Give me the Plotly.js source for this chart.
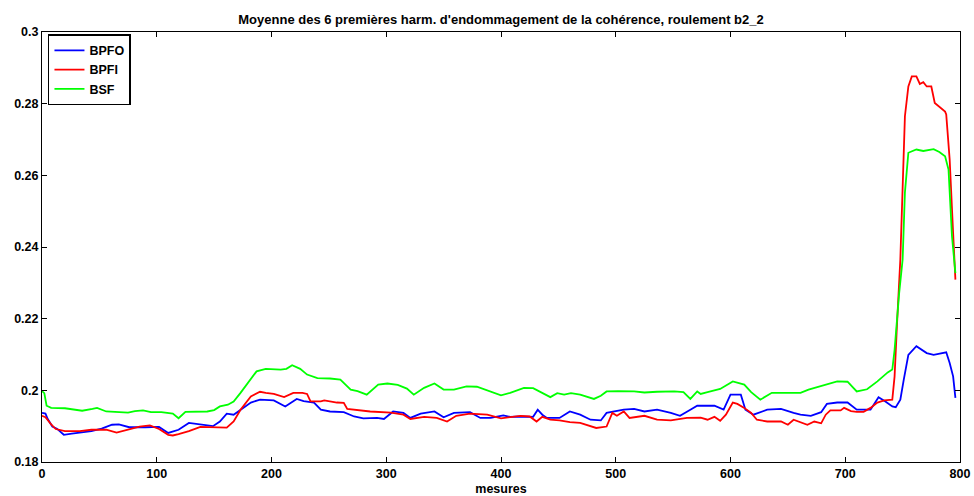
<!DOCTYPE html>
<html>
<head>
<meta charset="utf-8">
<script src="https://cdn.plot.ly/plotly-3.0.1.min.js"></script>
<style>html,body{margin:0;padding:0;background:#fff;}#chart{width:974px;height:496px;}</style>
</head>
<body>
<div id="chart"></div>
<script>
// BPFO (blue)
const bpfoX = [0,3,5,9,13,19,26,37,43,52,61,67,76,90,102,110,116,119,128,138,149,155,161,167,173,182,190,202,212,222,228,237,243,251,263,272,280,292,298,306,315,321,330,342,350,359,373,382,391,402,408,417,428,432,436,440,451,460,469,478,487,492,507,516,525,536,548,556,565,571,586,594,600,609,613,620,632,644,655,661,670,679,684,693,702,710,722,729,735,741,744,748,751,755,762,771,777,788,791,794,796];
const bpfoY = [0.1937,0.1935,0.1920,0.1899,0.1893,0.1876,0.1879,0.1883,0.1886,0.1893,0.1904,0.1905,0.1897,0.1897,0.1898,0.1881,0.1887,0.1890,0.1909,0.1905,0.1900,0.1913,0.1935,0.1932,0.1946,0.1966,0.1974,0.1972,0.1955,0.1976,0.1970,0.1966,0.1946,0.1941,0.1939,0.1927,0.1922,0.1923,0.1920,0.1941,0.1937,0.1923,0.1935,0.1941,0.1925,0.1937,0.1939,0.1923,0.1923,0.1930,0.1926,0.1927,0.1926,0.1946,0.1932,0.1923,0.1923,0.1941,0.1932,0.1918,0.1916,0.1937,0.1946,0.1948,0.1941,0.1946,0.1937,0.1929,0.1946,0.1957,0.1957,0.1946,0.1988,0.1988,0.1946,0.1932,0.1946,0.1948,0.1937,0.1932,0.1929,0.1939,0.1962,0.1966,0.1966,0.1946,0.1946,0.1981,0.1969,0.1955,0.1953,0.1974,0.2030,0.2099,0.2123,0.2104,0.2099,0.2106,0.2076,0.2039,0.1979];

// BPFI (red)
const bpfiX = [0,3,8,12,20,33,43,56,65,74,85,94,102,110,114,119,128,138,145,155,161,167,173,182,190,195,202,211,219,227,231,234,243,246,257,263,266,286,304,315,321,333,344,353,361,373,388,400,408,417,425,431,436,443,451,460,469,478,483,492,497,501,507,512,525,536,548,562,574,580,586,591,596,602,606,612,618,623,632,644,650,655,664,667,673,679,683,687,696,699,705,710,716,722,728,734,741,743,745,748,752,755,758,762,765,768,771,775,778,787,788,791,794,796];
const bpfiY = [0.1929,0.1925,0.1905,0.1892,0.1886,0.1886,0.1890,0.1890,0.1882,0.1890,0.1899,0.1902,0.1892,0.1876,0.1874,0.1878,0.1886,0.1898,0.1898,0.1898,0.1896,0.1913,0.1946,0.1983,0.1996,0.1993,0.1990,0.1981,0.1993,0.1993,0.1990,0.1969,0.1969,0.1972,0.1966,0.1965,0.1948,0.1941,0.1938,0.1932,0.1920,0.1926,0.1923,0.1913,0.1929,0.1935,0.1932,0.1922,0.1926,0.1929,0.1927,0.1913,0.1926,0.1918,0.1916,0.1911,0.1909,0.1901,0.1895,0.1899,0.1937,0.1929,0.1941,0.1923,0.1929,0.1918,0.1916,0.1923,0.1924,0.1918,0.1926,0.1915,0.1932,0.1966,0.1962,0.1951,0.1937,0.1918,0.1913,0.1913,0.1904,0.1918,0.1908,0.1904,0.1913,0.1908,0.1932,0.1944,0.1944,0.1951,0.1942,0.1940,0.1940,0.1951,0.1966,0.1972,0.1974,0.2039,0.2178,0.2365,0.2765,0.2848,0.2876,0.2876,0.2855,0.2860,0.2848,0.2848,0.2802,0.2778,0.2770,0.2644,0.2439,0.2309];

// BSF (green)
const bsfX = [0,2,4,8,20,35,44,48,56,67,75,81,88,95,104,114,119,125,138,144,150,155,162,167,173,179,187,195,208,213,218,225,231,240,251,260,269,275,283,293,301,310,318,324,333,342,350,359,370,379,391,400,408,420,428,437,443,449,455,461,469,481,487,492,502,516,525,536,551,559,565,571,574,580,591,602,612,618,626,636,650,661,668,679,693,702,710,719,728,737,741,743,747,750,752,755,762,768,777,782,787,790,793,796];
const bsfY = [0.1998,0.1992,0.1957,0.1951,0.1950,0.1943,0.1948,0.1951,0.1941,0.1939,0.1938,0.1942,0.1944,0.1939,0.1939,0.1935,0.1922,0.1940,0.1942,0.1941,0.1945,0.1955,0.1960,0.1969,0.1993,0.2020,0.2053,0.2060,0.2058,0.2060,0.2070,0.2060,0.2044,0.2034,0.2033,0.2030,0.2002,0.1998,0.1988,0.2016,0.2019,0.2015,0.2005,0.1988,0.2007,0.2019,0.2002,0.2002,0.2011,0.2010,0.1995,0.1986,0.1993,0.2007,0.2006,0.1992,0.1981,0.1992,0.1988,0.1992,0.1988,0.1976,0.1985,0.1997,0.1998,0.1997,0.1994,0.1996,0.1997,0.1995,0.1976,0.1997,0.1990,0.1995,0.2004,0.2025,0.2016,0.1995,0.1974,0.1993,0.1993,0.1993,0.2002,0.2013,0.2025,0.2024,0.1997,0.2003,0.2025,0.2050,0.2058,0.2113,0.2272,0.2365,0.2552,0.2663,0.2672,0.2668,0.2673,0.2665,0.2653,0.2616,0.2430,0.2327];

const seriesNames = ['BPFO','BPFI','BSF'];
const seriesColors = ['#0000ff','#ff0000','#00ff00'];
const xTicks = [0,100,200,300,400,500,600,700,800];
const yTicks = [0.18,0.2,0.22,0.24,0.26,0.28,0.3];
const yTickText = ['0.18','0.2','0.22','0.24','0.26','0.28','0.3'];

const FONT = 'Liberation Sans, Arial, Helvetica, sans-serif';
const xs = [bpfoX, bpfiX, bsfX];
const ys = [bpfoY, bpfiY, bsfY];

const traces = seriesNames.map((n,i)=>({
  x: xs[i], y: ys[i], type:'scatter', mode:'lines', name:n,
  line:{color:seriesColors[i], width:1.8}
}));

const axisCommon = {
  showgrid:false, zeroline:false, showline:true, linecolor:'#000', linewidth:1,
  mirror:'allticks', ticks:'inside', ticklen:5, tickcolor:'#000', tickwidth:1,
  tickfont:{family:FONT, size:12.5, color:'#000', weight:'bold'}
};

const layout = {
  width:974, height:496,
  margin:{l:42, r:14, t:32, b:34},
  paper_bgcolor:'#fff', plot_bgcolor:'#fff',
  showlegend:true,
  title:{text:"Moyenne des 6 premières harm. d'endommagement de la cohérence, roulement b2_2",
    font:{family:FONT, size:13, color:'#000', weight:'bold'},
    x:0.5, xref:'paper', xanchor:'center', y:1 - 19/496, yref:'container', yanchor:'middle'},
  xaxis: Object.assign({}, axisCommon, {
    range:[0,800], tickvals:xTicks, ticktext:xTicks.map(String),
    title:{text:'mesures', font:{family:FONT, size:12.5, color:'#000', weight:'bold'}, standoff:5}
  }),
  yaxis: Object.assign({}, axisCommon, {
    range:[0.18,0.3], tickvals:yTicks, ticktext:yTickText
  }),
  legend:{x:0.0065, y:0.995, xanchor:'left', yanchor:'top',
    bgcolor:'#fff', bordercolor:'#000', borderwidth:1.5,
    font:{family:FONT, size:12.5, color:'#000', weight:'bold'},
    tracegroupgap:0, itemwidth:30}
};

Plotly.newPlot('chart', traces, layout, {staticPlot:true, displayModeBar:false});
</script>
</body>
</html>
